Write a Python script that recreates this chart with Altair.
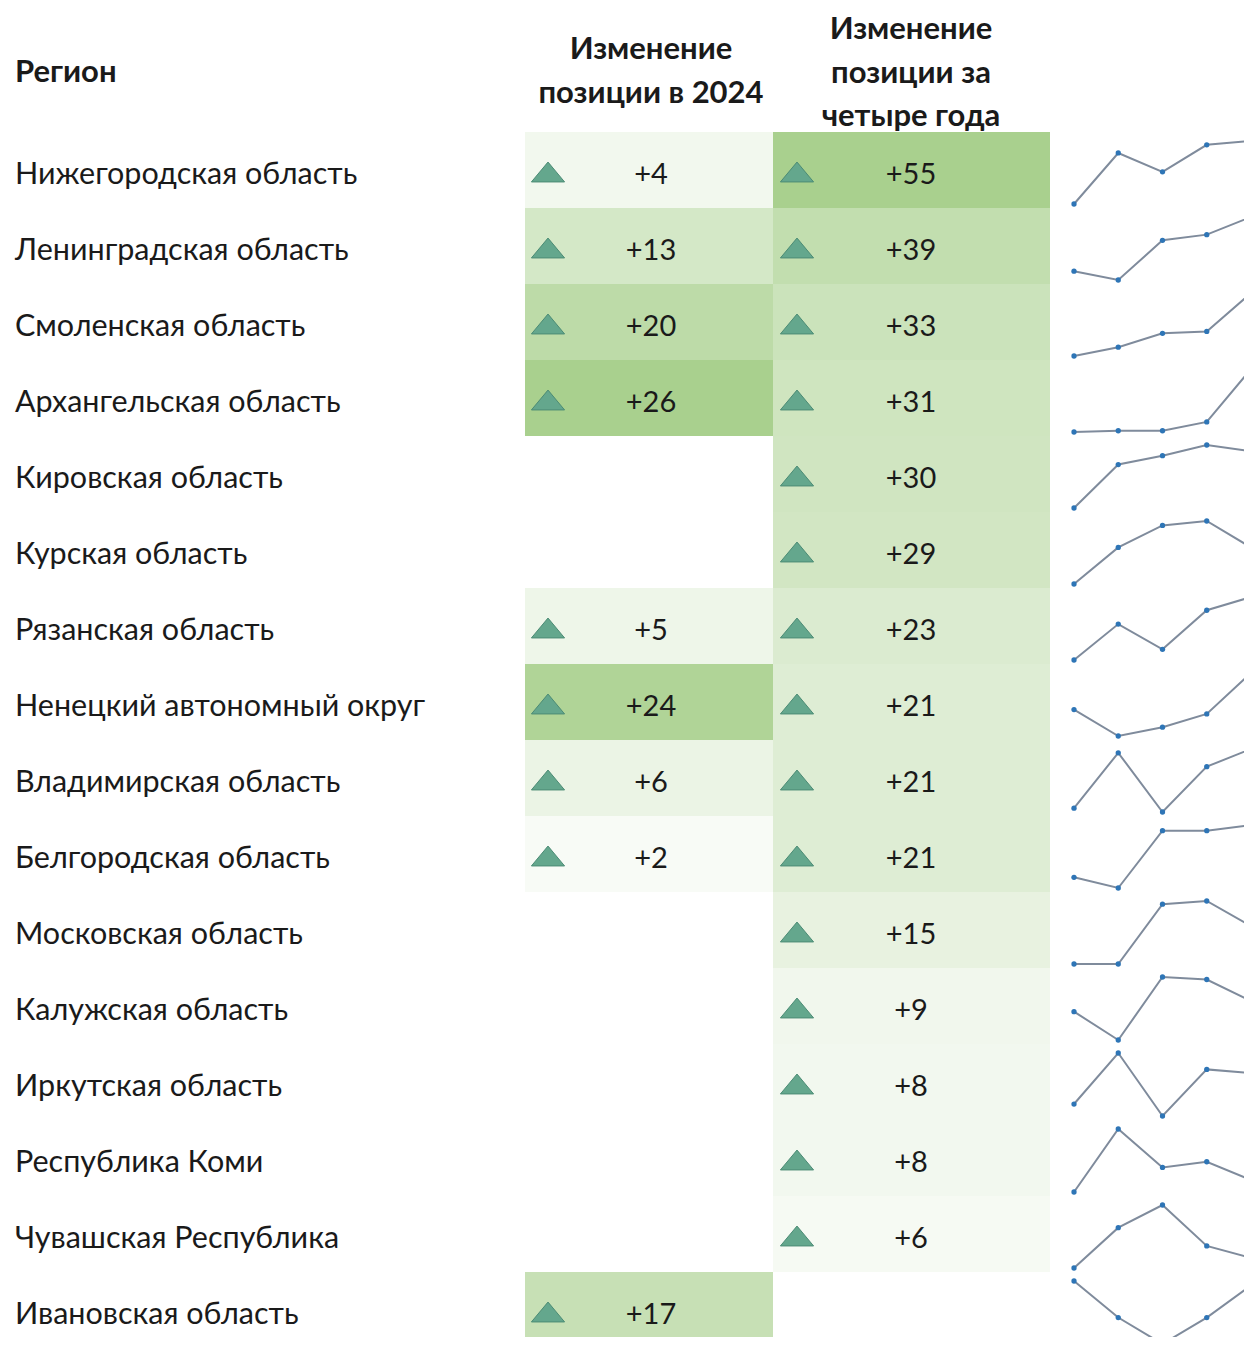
import altair as alt
import pandas as pd

regions = [
    "Нижегородская область", "Ленинградская область", "Смоленская область",
    "Архангельская область", "Кировская область", "Курская область",
    "Рязанская область", "Ненецкий автономный округ", "Владимирская область",
    "Белгородская область", "Московская область", "Калужская область",
    "Иркутская область", "Республика Коми", "Чувашская Республика",
    "Ивановская область",
]
change_2024 = [4, 13, 20, 26, None, None, 5, 24, 6, 2, None, None, None, None, None, 17]
change_4y = [55, 39, 33, 31, 30, 29, 23, 21, 21, 21, 15, 9, 8, 8, 6, None]

# sparkline points (relative height within each row's own range, 0 = lowest, 1 = highest)
spark_points = [1, 2, 3, 4, 5]
spark = [
    [0.00, 0.81, 0.51, 0.94, 1.00],
    [0.14, 0.00, 0.63, 0.72, 1.00],
    [0.00, 0.14, 0.36, 0.39, 1.00],
    [0.00, 0.02, 0.02, 0.16, 1.00],
    [0.00, 0.69, 0.83, 1.00, 0.90],
    [0.00, 0.58, 0.93, 1.00, 0.58],
    [0.00, 0.57, 0.17, 0.79, 1.00],
    [0.42, 0.00, 0.14, 0.35, 1.00],
    [0.06, 0.94, 0.00, 0.72, 1.00],
    [0.17, 0.00, 0.91, 0.91, 1.00],
    [0.00, 0.00, 0.95, 1.00, 0.60],
    [0.45, 0.00, 1.00, 0.96, 0.62],
    [0.19, 1.00, 0.00, 0.74, 0.68],
    [0.00, 1.00, 0.39, 0.48, 0.19],
    [0.00, 0.64, 1.00, 0.35, 0.16],
    [1.00, 0.42, 0.00, 0.42, 0.93],
]

header_region = "Регион"
header_c1 = ["Изменение", "позиции в 2024"]
header_c2 = ["Изменение", "позиции за", "четыре года"]

FONT = "Lato"
TXT = "#1a1a1a"
ROW_H = 76

c1 = pd.DataFrame({"region": regions, "v": change_2024}).dropna()
c2 = pd.DataFrame({"region": regions, "v": change_4y}).dropna()
names = pd.DataFrame({"region": regions})
sp = pd.DataFrame(
    [{"region": r, "p": p, "h": h} for r, row in zip(regions, spark) for p, h in zip(spark_points, row)]
)

yenc = alt.Y(
    "region:N", sort=regions, axis=None,
    scale=alt.Scale(domain=regions, range=[0, ROW_H * len(regions)], paddingInner=0, paddingOuter=0),
)

tri_path = "M-1,0.6L0,-0.6L1,0.6Z"


def cell_layers(df, x0, x1, tri_x, txt_x, maxv):
    base = alt.Chart(df).encode(y=yenc)
    cell = base.mark_rule(strokeWidth=ROW_H, strokeCap="butt", opacity=1).encode(
        x=alt.value(x0), x2=alt.value(x1),
        stroke=alt.Stroke("v:Q", legend=None,
                          scale=alt.Scale(domain=[0, maxv], range=["#FFFFFF", "#A9D08E"],
                                          interpolate="rgb")),
    )
    tri = base.mark_point(
        shape=tri_path, filled=True, fill="#64A78D", stroke="#4B8B74", strokeWidth=1,
        size=1100, opacity=1, yOffset=2,
    ).encode(x=alt.value(tri_x))
    txt = base.transform_calculate(lbl="'+' + datum.v").mark_text(
        font=FONT, fontSize=29, color=TXT, align="center", baseline="middle", yOffset=5,
    ).encode(x=alt.value(txt_x), text="lbl:N")
    return cell, tri, txt


r1, t1, x1 = cell_layers(c1, 517, 765, 540, 643, max(v for v in change_2024 if v is not None))
r2, t2, x2 = cell_layers(c2, 765, 1042, 789, 903, max(v for v in change_4y if v is not None))

labels = alt.Chart(names).mark_text(
    font=FONT, fontSize=30.5, color=TXT, align="left", baseline="middle", yOffset=5,
).encode(y=yenc, x=alt.value(7), text="region:N")


def header(text, x, y, align="center"):
    return alt.Chart(names.head(1)).mark_text(
        font=FONT, fontSize=31, fontWeight="bold", color=TXT, align=align, baseline="middle",
    ).encode(x=alt.value(x), y=alt.value(y), text=alt.value(text))


headers = [header(header_region, 7, -59, "left")]
for t, yy in zip(header_c1, [-82, -38]):
    headers.append(header(t, 643, yy))
for t, yy in zip(header_c2, [-102, -58, -15]):
    headers.append(header(t, 903, yy))

sx = alt.X("p:Q", axis=None, scale=alt.Scale(domain=[1, 5], range=[1066, 1243]))
soff = alt.YOffset("h:Q", scale=alt.Scale(domain=[0, 1], range=[72, 9]))
spark_line = alt.Chart(sp).mark_line(color="#7F8B9C", strokeWidth=2).encode(
    x=sx, y=yenc, yOffset=soff, detail="region:N", order="p:Q"
)
spark_pts = alt.Chart(sp).mark_point(filled=True, color="#2E75B6", size=28, opacity=1).encode(
    x=sx, y=yenc, yOffset=soff
)

chart = alt.layer(
    r1, r2, t1, t2, x1, x2, labels, spark_line, spark_pts, *headers
).resolve_scale(stroke="independent").properties(
    width=1236, height=1205,
    autosize=alt.AutoSizeParams(type="none"),
    padding={"left": 0, "top": 124, "right": 0, "bottom": 0},
    background="white",
).configure_view(stroke=None)

chart.save("out.html", embed_options={"renderer": "svg", "actions": False})
